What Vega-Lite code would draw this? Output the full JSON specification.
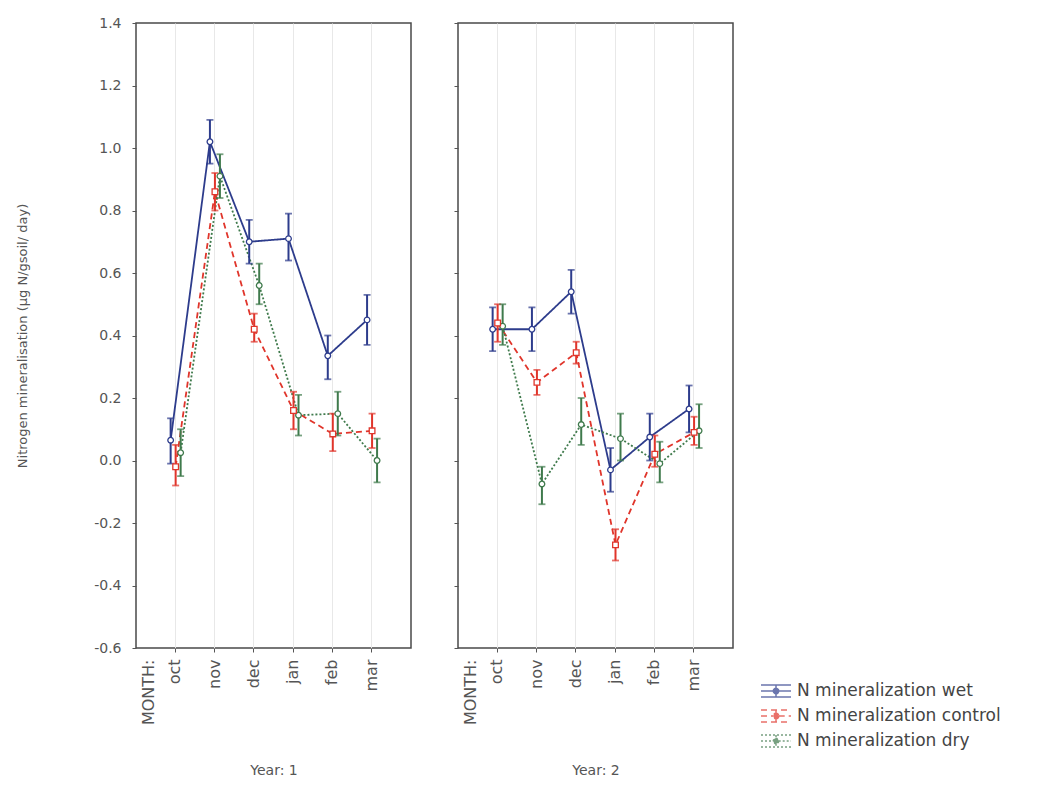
{
  "$schema": "https://vega.github.io/schema/vega-lite/v6.json",
  "padding": {"left": 15, "top": 15, "right": 5, "bottom": 5},
  "config": {
    "font": "DejaVu Sans",
    "view": {"stroke": "#4a4a4a", "strokeWidth": 1.5},
    "axis": {"labelColor": "#555", "titleColor": "#555", "titleFontWeight": "normal", "tickColor": "#555", "domain": false},
    "legend": {"labelFontSize": 17, "labelColor": "#444", "labelLimit": 400}
  },
  "data": {"values": [
    {"year": 1, "month": "oct", "series": "N mineralization wet", "mean": 0.065, "lo": -0.01, "hi": 0.135},
    {"year": 1, "month": "nov", "series": "N mineralization wet", "mean": 1.02, "lo": 0.95, "hi": 1.09},
    {"year": 1, "month": "dec", "series": "N mineralization wet", "mean": 0.70, "lo": 0.63, "hi": 0.77},
    {"year": 1, "month": "jan", "series": "N mineralization wet", "mean": 0.71, "lo": 0.64, "hi": 0.79},
    {"year": 1, "month": "feb", "series": "N mineralization wet", "mean": 0.335, "lo": 0.26, "hi": 0.40},
    {"year": 1, "month": "mar", "series": "N mineralization wet", "mean": 0.45, "lo": 0.37, "hi": 0.53},
    {"year": 1, "month": "oct", "series": "N mineralization control", "mean": -0.02, "lo": -0.08, "hi": 0.05},
    {"year": 1, "month": "nov", "series": "N mineralization control", "mean": 0.86, "lo": 0.80, "hi": 0.92},
    {"year": 1, "month": "dec", "series": "N mineralization control", "mean": 0.42, "lo": 0.38, "hi": 0.47},
    {"year": 1, "month": "jan", "series": "N mineralization control", "mean": 0.16, "lo": 0.10, "hi": 0.22},
    {"year": 1, "month": "feb", "series": "N mineralization control", "mean": 0.085, "lo": 0.03, "hi": 0.15},
    {"year": 1, "month": "mar", "series": "N mineralization control", "mean": 0.095, "lo": 0.04, "hi": 0.15},
    {"year": 1, "month": "oct", "series": "N mineralization dry", "mean": 0.025, "lo": -0.05, "hi": 0.10},
    {"year": 1, "month": "nov", "series": "N mineralization dry", "mean": 0.91, "lo": 0.84, "hi": 0.98},
    {"year": 1, "month": "dec", "series": "N mineralization dry", "mean": 0.56, "lo": 0.50, "hi": 0.63},
    {"year": 1, "month": "jan", "series": "N mineralization dry", "mean": 0.145, "lo": 0.08, "hi": 0.21},
    {"year": 1, "month": "feb", "series": "N mineralization dry", "mean": 0.15, "lo": 0.08, "hi": 0.22},
    {"year": 1, "month": "mar", "series": "N mineralization dry", "mean": 0.0, "lo": -0.07, "hi": 0.07},
    {"year": 2, "month": "oct", "series": "N mineralization wet", "mean": 0.42, "lo": 0.35, "hi": 0.49},
    {"year": 2, "month": "nov", "series": "N mineralization wet", "mean": 0.42, "lo": 0.35, "hi": 0.49},
    {"year": 2, "month": "dec", "series": "N mineralization wet", "mean": 0.54, "lo": 0.47, "hi": 0.61},
    {"year": 2, "month": "jan", "series": "N mineralization wet", "mean": -0.03, "lo": -0.10, "hi": 0.04},
    {"year": 2, "month": "feb", "series": "N mineralization wet", "mean": 0.075, "lo": 0.0, "hi": 0.15},
    {"year": 2, "month": "mar", "series": "N mineralization wet", "mean": 0.165, "lo": 0.09, "hi": 0.24},
    {"year": 2, "month": "oct", "series": "N mineralization control", "mean": 0.44, "lo": 0.38, "hi": 0.50},
    {"year": 2, "month": "nov", "series": "N mineralization control", "mean": 0.25, "lo": 0.21, "hi": 0.29},
    {"year": 2, "month": "dec", "series": "N mineralization control", "mean": 0.345, "lo": 0.31, "hi": 0.38},
    {"year": 2, "month": "jan", "series": "N mineralization control", "mean": -0.27, "lo": -0.32, "hi": -0.22},
    {"year": 2, "month": "feb", "series": "N mineralization control", "mean": 0.02, "lo": -0.02, "hi": 0.08},
    {"year": 2, "month": "mar", "series": "N mineralization control", "mean": 0.09, "lo": 0.05, "hi": 0.14},
    {"year": 2, "month": "oct", "series": "N mineralization dry", "mean": 0.43, "lo": 0.37, "hi": 0.50},
    {"year": 2, "month": "nov", "series": "N mineralization dry", "mean": -0.075, "lo": -0.14, "hi": -0.02},
    {"year": 2, "month": "dec", "series": "N mineralization dry", "mean": 0.115, "lo": 0.05, "hi": 0.20},
    {"year": 2, "month": "jan", "series": "N mineralization dry", "mean": 0.07, "lo": 0.0, "hi": 0.15},
    {"year": 2, "month": "feb", "series": "N mineralization dry", "mean": -0.01, "lo": -0.07, "hi": 0.06},
    {"year": 2, "month": "mar", "series": "N mineralization dry", "mean": 0.095, "lo": 0.04, "hi": 0.18}
  ]},
  "spacing": 40,
  "resolve": {"scale": {"color": "shared", "strokeDash": "shared"}},
  "hconcat": [
    {
      "width": 275, "height": 625,
      "transform": [{"filter": "datum.year == 1"}],
      "encoding": {
        "x": {"field": "month", "type": "ordinal", "sort": ["oct", "nov", "dec", "jan", "feb", "mar"],
          "scale": {"type": "band", "paddingInner": 0, "paddingOuter": 0.5},
          "axis": {"labelAngle": -90, "title": "Year: 1", "titleFontSize": 14, "titlePadding": 39, "grid": true, "gridColor": "#e8e8e8", "tickSize": 4, "labelPadding": 7, "labelFontSize": 16, "labelLineHeight": 26,
            "labelExpr": "datum.value == 'oct' ? ['MONTH:', 'oct'] : datum.value",
            "labelOffset": {"condition": {"test": "datum.value == 'oct'", "value": -26}, "value": 0}}},
        "xOffset": {"field": "series", "type": "nominal", "sort": ["N mineralization wet", "N mineralization control", "N mineralization dry"], "scale": {"range": [12.5, 27.5]}},
        "color": {"field": "series", "type": "nominal", "scale": {"domain": ["N mineralization wet", "N mineralization control", "N mineralization dry"], "range": ["#2d3c8c", "#e0352b", "#3f7a4c"]},
          "legend": {"orient": "none", "legendX": 624, "legendY": 652, "title": null, "symbolType": "M-1,-0.4H1M-1,0.4H1M0,-0.4V-0.18M0,0.18V0.4M-1,0H-0.18M0.18,0H1M0.18,0A0.18,0.18 0 1,1 -0.18,0A0.18,0.18 0 1,1 0.18,0", "symbolSize": 900, "symbolStrokeWidth": 1.5, "rowPadding": -16, "labelOffset": 5}}
      },
      "layer": [
        {"mark": {"type": "line", "strokeWidth": 1.8},
          "encoding": {"y": {"field": "mean", "type": "quantitative", "scale": {"domain": [-0.6, 1.4], "nice": false},
            "axis": {"title": "Nitrogen mineralisation (µg N/gsoil/ day)", "titleFontSize": 13, "grid": false, "values": [-0.6, -0.4, -0.2, 0, 0.2, 0.4, 0.6, 0.8, 1.0, 1.2, 1.4], "format": ".1f", "labelExpr": "replace(datum.label, '−', '-')", "labelFontSize": 14, "tickSize": 4, "labelPadding": 11, "titlePadding": 64}},
            "strokeDash": {"field": "series", "type": "nominal", "scale": {"domain": ["N mineralization wet", "N mineralization control", "N mineralization dry"], "range": [[1, 0], [6, 4], [2, 2]]}}}},
        {"mark": {"type": "rule", "strokeWidth": 2},
          "encoding": {"y": {"field": "lo", "type": "quantitative"}, "y2": {"field": "hi"}}},
        {"mark": {"type": "tick", "orient": "horizontal", "size": 7, "thickness": 1.8},
          "encoding": {"y": {"field": "lo", "type": "quantitative"}}},
        {"mark": {"type": "tick", "orient": "horizontal", "size": 7, "thickness": 1.8},
          "encoding": {"y": {"field": "hi", "type": "quantitative"}}},
        {"transform": [{"filter": "datum.series != 'N mineralization control'"}],
          "mark": {"type": "point", "shape": "circle", "filled": false, "fill": "white", "fillOpacity": 1, "size": 32, "strokeWidth": 1.3},
          "encoding": {"y": {"field": "mean", "type": "quantitative"}}},
        {"transform": [{"filter": "datum.series == 'N mineralization control'"}],
          "mark": {"type": "point", "shape": "square", "filled": false, "fill": "white", "fillOpacity": 1, "size": 32, "strokeWidth": 1.3},
          "encoding": {"y": {"field": "mean", "type": "quantitative"}}}
      ]
    },
    {
      "width": 275, "height": 625,
      "transform": [{"filter": "datum.year == 2"}],
      "encoding": {
        "x": {"field": "month", "type": "ordinal", "sort": ["oct", "nov", "dec", "jan", "feb", "mar"],
          "scale": {"type": "band", "paddingInner": 0, "paddingOuter": 0.5},
          "axis": {"labelAngle": -90, "title": "Year: 2", "titleFontSize": 14, "titlePadding": 39, "grid": true, "gridColor": "#e8e8e8", "tickSize": 4, "labelPadding": 7, "labelFontSize": 16, "labelLineHeight": 26,
            "labelExpr": "datum.value == 'oct' ? ['MONTH:', 'oct'] : datum.value",
            "labelOffset": {"condition": {"test": "datum.value == 'oct'", "value": -26}, "value": 0}}},
        "xOffset": {"field": "series", "type": "nominal", "sort": ["N mineralization wet", "N mineralization control", "N mineralization dry"], "scale": {"range": [12.5, 27.5]}},
        "color": {"field": "series", "type": "nominal", "scale": {"domain": ["N mineralization wet", "N mineralization control", "N mineralization dry"], "range": ["#2d3c8c", "#e0352b", "#3f7a4c"]}}
      },
      "layer": [
        {"mark": {"type": "line", "strokeWidth": 1.8},
          "encoding": {"y": {"field": "mean", "type": "quantitative", "scale": {"domain": [-0.6, 1.4], "nice": false},
            "axis": {"title": null, "labels": false, "grid": false, "values": [-0.6, -0.4, -0.2, 0, 0.2, 0.4, 0.6, 0.8, 1.0, 1.2, 1.4], "tickSize": 4}},
            "strokeDash": {"field": "series", "type": "nominal", "scale": {"domain": ["N mineralization wet", "N mineralization control", "N mineralization dry"], "range": [[1, 0], [6, 4], [2, 2]]}}}},
        {"mark": {"type": "rule", "strokeWidth": 2},
          "encoding": {"y": {"field": "lo", "type": "quantitative"}, "y2": {"field": "hi"}}},
        {"mark": {"type": "tick", "orient": "horizontal", "size": 7, "thickness": 1.8},
          "encoding": {"y": {"field": "lo", "type": "quantitative"}}},
        {"mark": {"type": "tick", "orient": "horizontal", "size": 7, "thickness": 1.8},
          "encoding": {"y": {"field": "hi", "type": "quantitative"}}},
        {"transform": [{"filter": "datum.series != 'N mineralization control'"}],
          "mark": {"type": "point", "shape": "circle", "filled": false, "fill": "white", "fillOpacity": 1, "size": 32, "strokeWidth": 1.3},
          "encoding": {"y": {"field": "mean", "type": "quantitative"}}},
        {"transform": [{"filter": "datum.series == 'N mineralization control'"}],
          "mark": {"type": "point", "shape": "square", "filled": false, "fill": "white", "fillOpacity": 1, "size": 32, "strokeWidth": 1.3},
          "encoding": {"y": {"field": "mean", "type": "quantitative"}}}
      ]
    }
  ]
}
